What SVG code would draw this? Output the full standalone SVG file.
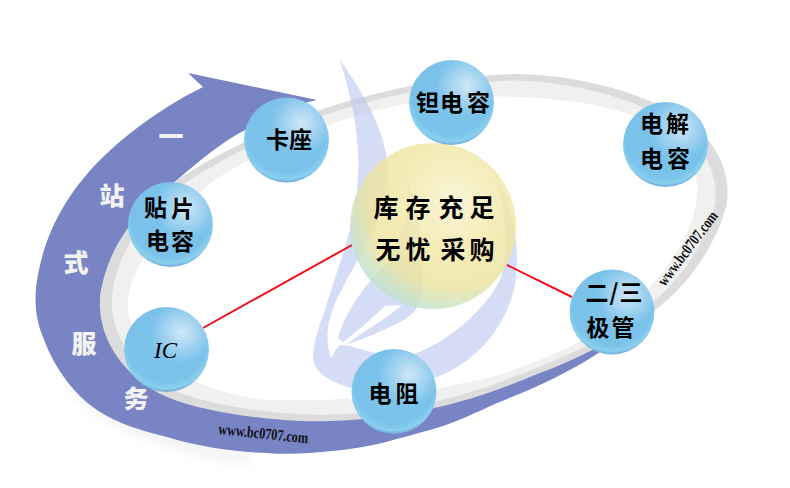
<svg xmlns="http://www.w3.org/2000/svg" width="790" height="488" viewBox="0 0 790 488">
<style>
.cjk{font-family:"Noto Sans CJK SC","Noto Sans",sans-serif;font-weight:700;fill:#000;text-anchor:middle}
.w{font-family:"Noto Sans CJK SC","Noto Sans",sans-serif;font-weight:900;fill:#f2f2f2;text-anchor:middle;font-size:25px}
.url{font-family:"Liberation Serif",serif;font-weight:700;fill:#111118;font-size:16px}
.f{fill:#bcc6f0;opacity:.62}
.s{font-size:23px}
.m{font-size:25px}
</style>
<defs>
<radialGradient id="ballBase" cx="50%" cy="42%" r="58%">
<stop offset="0" stop-color="#7dc3ec"/><stop offset=".8" stop-color="#7ac2ea"/><stop offset=".93" stop-color="#8bd0ee"/><stop offset="1" stop-color="#6fa9d8"/>
</radialGradient>
<radialGradient id="ballHi" cx="68%" cy="30%" r="36%">
<stop offset="0" stop-color="#d2e8f6" stop-opacity=".95"/><stop offset="1" stop-color="#d2e8f6" stop-opacity="0"/>
</radialGradient>
<radialGradient id="bigBase" cx="62%" cy="35%" r="72%">
<stop offset="0" stop-color="#f8f2cf"/><stop offset=".45" stop-color="#f2e8a8"/><stop offset=".72" stop-color="#ece4a0"/><stop offset="1" stop-color="#b4e2dc"/>
</radialGradient>
<filter id="blur" x="-20%" y="-20%" width="140%" height="140%"><feGaussianBlur stdDeviation="6"/></filter>
<path id="ringOuter" d="M100,300 C104,250 140,205 177,180 C215,155 265,130 320,110 C380,90 450,75 520,74 C600,76 680,105 708,140 C725,160 732,190 725,210 C712,255 680,292 655,310 C620,338 580,358 540,373 C480,398 420,418 330,421 C290,423 210,415 167,397 C125,378 98,340 100,300Z"/>
<circle id="ball" r="42.5" fill="url(#ballBase)"/>
<circle id="hi" r="42.5" fill="url(#ballHi)"/>
</defs>
<rect width="790" height="488" fill="#fff"/>
<g id="backdrop">
<path d="M70,380 C100,420 170,448 250,458" fill="none" stroke="#8c8c8c" stroke-width="10" opacity=".14" filter="url(#blur)"/>
<path id="arrow" fill="#7884c4" d="M317,100 L188,73 L203,87 C170,103 130,130 100,160 C65,195 45,235 38,275 C33,300 36,320 43,337 C55,370 75,395 97,410 C120,425 140,430 167,437 C200,447 235,452 267,453 C290,455 310,453 333,451 C370,448 400,438 430,430 C455,423 475,413 497,403 C530,390 565,375 600,352 L600,330 L300,380 L120,340 L100,300 C102,265 130,225 177,180 C200,160 225,140 245,130 C270,115 295,105 317,100Z"/>
<use href="#ringOuter" fill="#dcdcdc"/>
<use href="#ringOuter" fill="#f0f0ee" transform="translate(414 248) scale(.962) translate(-414 -248)"/>
<path id="ringInner" fill="#fff" d="M128,300 C132,262 170,215 215,180 C270,145 345,112 420,102 C490,92 580,95 640,118 C680,133 700,165 697,195 C695,225 675,260 650,287 C620,318 590,338 563,350 C530,365 490,380 463,383 C420,395 340,402 267,400 C215,395 175,375 150,350 C135,335 126,320 128,300Z"/>
<path class="f" d="M340,60 C352,100 362,140 357,190 C355,225 340,260 325,310 C316,335 310,355 315,365 C320,378 340,385 352,388 L437,377 C475,362 505,330 515,285 C520,250 515,210 497,180 C505,215 510,250 500,280 C485,310 450,340 417,353 C395,360 370,352 350,346 L340,345 C335,350 333,355 331,358 C325,340 325,320 343,287 C355,262 375,240 388,185 C392,140 365,95 340,60Z"/>
<path class="f" d="M338,338 C345,312 365,285 385,265 C405,240 412,205 405,173 C420,210 428,265 420,300 C415,318 400,322 377,333 C365,338 355,342 347,344 C365,330 385,320 402,305 L385,306 C370,320 355,333 343,342Z"/>
<text class="w" x="171" y="146">一</text>
<text class="w" x="112" y="205">站</text>
<text class="w" x="76" y="272">式</text>
<text class="w" x="84" y="353">服</text>
<text class="w" x="136" y="408">务</text>
<text class="url" transform="translate(218 434) rotate(6)" textLength="90" lengthAdjust="spacingAndGlyphs">www.bc0707.com</text>
<text class="url" transform="translate(665 287) rotate(-53)" textLength="89" lengthAdjust="spacingAndGlyphs">www.bc0707.com</text>
</g>
<g id="connectors" fill="none" stroke="#f00f16" stroke-width="2">
<line x1="203" y1="328" x2="352" y2="245"/>
<line x1="507" y1="265" x2="572" y2="297"/>
</g>
<g id="center">
<circle cx="433" cy="226" r="83" fill="url(#bigBase)" opacity=".84"/>
<text class="cjk m" x="386" y="217">库</text><text class="cjk m" x="418" y="217">存</text><text class="cjk m" x="451" y="217">充</text><text class="cjk m" x="482" y="217">足</text>
<text class="cjk m" x="388" y="259">无</text><text class="cjk m" x="418" y="259">忧</text><text class="cjk m" x="453" y="259">采</text><text class="cjk m" x="482" y="259">购</text>
</g>
<g id="node-kazuo" transform="translate(286.5 140)"><use href="#ball"/><use href="#hi"/>
<text class="cjk s" x="-9" y="8">卡</text><text class="cjk s" x="14" y="8">座</text></g>
<g id="node-tiepian" transform="translate(170.5 224.5)"><use href="#ball"/><use href="#hi"/>
<text class="cjk s" x="-15" y="-9">贴</text><text class="cjk s" x="12" y="-8">片</text>
<text class="cjk s" x="-13" y="24">电</text><text class="cjk s" x="12" y="25">容</text></g>
<g id="node-ic" transform="translate(166.5 349.5)"><use href="#ball"/><use href="#hi"/>
<text x="-1" y="8" text-anchor="middle" font-family="Liberation Serif,serif" font-style="italic" font-size="23" fill="#000">IC</text></g>
<g id="node-tantalum" transform="translate(451.5 102.5)"><use href="#ball"/><use href="#hi"/>
<text class="cjk s" x="-24" y="8">钽</text><text class="cjk s" x="0" y="8">电</text><text class="cjk s" x="27" y="8">容</text></g>
<g id="node-electrolytic" transform="translate(665.5 144.5)"><use href="#ball"/><use href="#hi"/>
<text class="cjk s" x="-14" y="-13">电</text><text class="cjk s" x="12" y="-13">解</text>
<text class="cjk s" x="-14" y="22">电</text><text class="cjk s" x="13" y="22">容</text></g>
<g id="node-diode" transform="translate(612 312)"><use href="#ball"/><use href="#hi"/>
<text class="cjk s" x="-15" y="-11">二</text><text class="cjk s" x="2" y="-11">/</text><text class="cjk s" x="19" y="-11">三</text>
<text class="cjk s" x="-14" y="24">极</text><text class="cjk s" x="11" y="24">管</text></g>
<g id="node-resistor" transform="translate(394 391.5)"><use href="#ball"/><use href="#hi"/>
<text class="cjk s" x="-14" y="10">电</text><text class="cjk s" x="13" y="10">阻</text></g>
</svg>
